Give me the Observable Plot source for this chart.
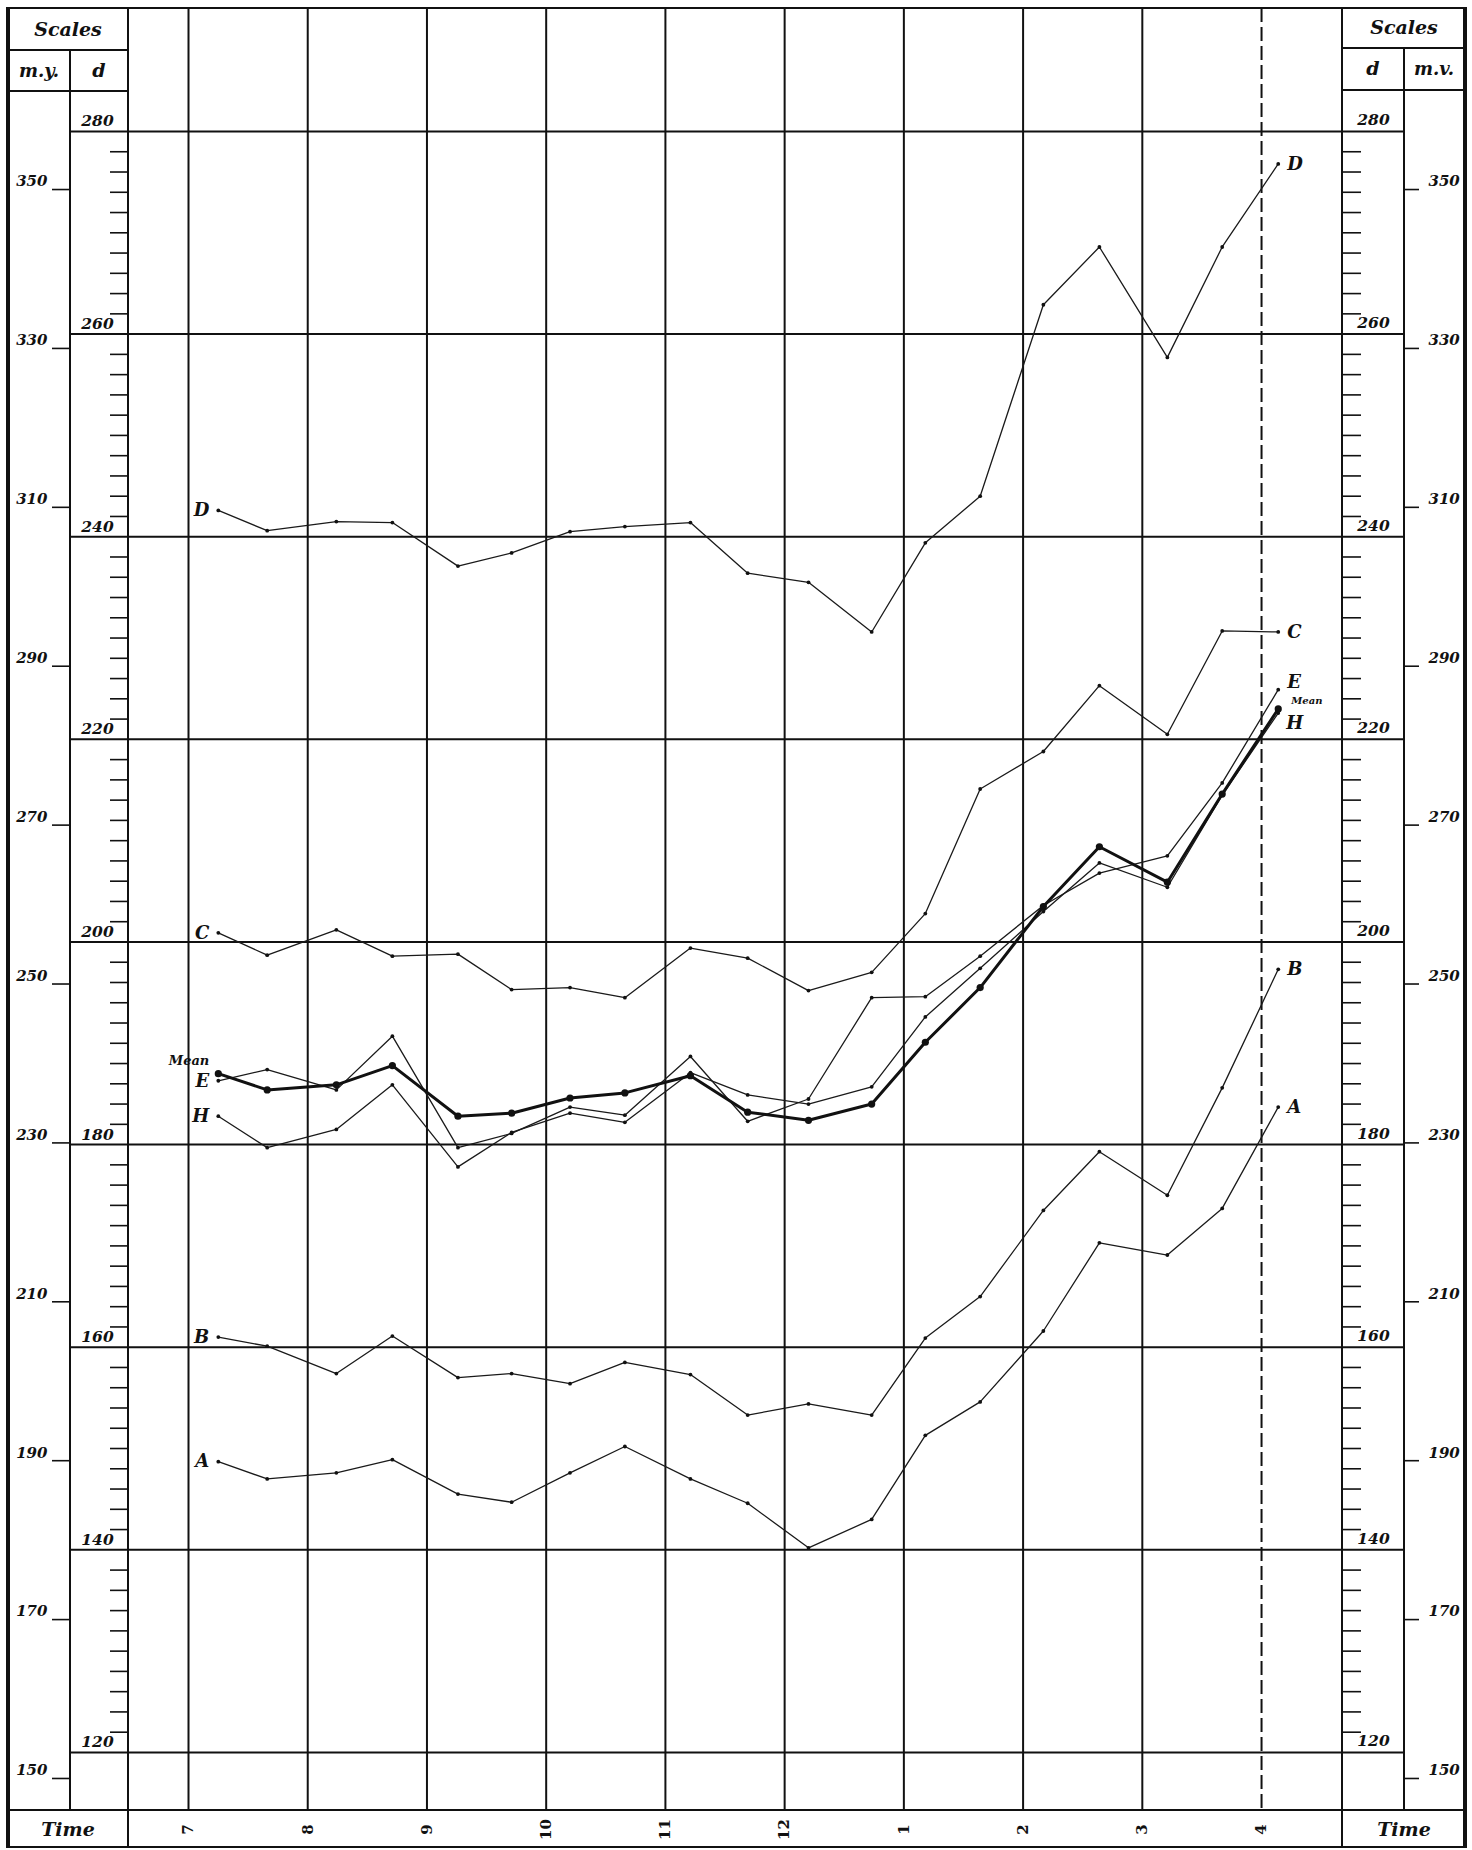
<!DOCTYPE html>
<html>
<head>
<meta charset="utf-8">
<script src="https://cdn.jsdelivr.net/npm/d3@7"></script>
<script src="https://cdn.jsdelivr.net/npm/@observablehq/plot@0.6"></script>
<style>
html,body{margin:0;padding:0;background:#fff;}
#fig{position:relative;width:1472px;height:1850px;overflow:hidden;font-family:"DejaVu Serif",serif;background:#fff;}
#fig svg{position:absolute;left:0;top:0;}
.ln{position:absolute;background:#111;}
.lbl{position:absolute;font-weight:bold;font-style:italic;color:#111;transform:translate(-50%,-50%);white-space:nowrap;font-family:"DejaVu Serif",serif;}
</style>
</head>
<body>
<div id="fig"></div>
<script>
// ---- data (time in decimal hours, values on the "d" scale) ----
const times = [7.25, 7.66, 8.24, 8.71, 9.26, 9.71, 10.20, 10.66, 11.21, 11.69, 12.20, 12.73, 13.18, 13.64, 14.17, 14.64, 15.21, 15.67, 16.14];
const seriesA = [148.7, 147.0, 147.6, 148.9, 145.5, 144.7, 147.6, 150.2, 147.0, 144.6, 140.2, 143.0, 151.3, 154.6, 161.6, 170.3, 169.1, 173.7, 183.7];
const seriesB = [161.0, 160.1, 157.4, 161.1, 157.0, 157.4, 156.4, 158.5, 157.3, 153.3, 154.4, 153.3, 160.9, 165.0, 173.5, 179.3, 175.0, 185.6, 197.3];
const seriesC = [200.9, 198.7, 201.2, 198.6, 198.8, 195.3, 195.5, 194.5, 199.4, 198.4, 195.2, 197.0, 202.8, 215.1, 218.8, 225.3, 220.5, 230.7, 230.6];
const seriesD = [242.6, 240.6, 241.5, 241.4, 237.1, 238.4, 240.5, 241.0, 241.4, 236.4, 235.5, 230.6, 239.4, 244.0, 262.9, 268.6, 257.7, 268.6, 276.8];
const seriesE = [186.3, 187.4, 185.4, 190.7, 179.7, 181.1, 183.7, 182.9, 188.7, 182.3, 184.5, 194.5, 194.6, 198.6, 203.6, 206.8, 208.5, 215.7, 224.9];
const seriesH = [182.8, 179.7, 181.5, 185.9, 177.8, 181.2, 183.1, 182.2, 187.1, 184.9, 184.0, 185.7, 192.6, 197.4, 203.0, 207.8, 205.4, 214.5, 222.6];
const seriesMean = [187.0, 185.4, 185.9, 187.8, 182.8, 183.1, 184.6, 185.1, 186.8, 183.2, 182.4, 184.0, 190.1, 195.5, 203.5, 209.4, 205.9, 214.6, 223.0];
const seriesNames = ["A", "B", "C", "D", "E", "H"];

// ---- tick labels ----
const hourTicks = [7, 8, 9, 10, 11, 12, 13, 14, 15, 16];
const hourLabels = ["7", "8", "9", "10", "11", "12", "1", "2", "3", "4"];
const dMajor = [120, 140, 160, 180, 200, 220, 240, 260, 280];
const dMinor = d3.range(122, 280, 2).filter(v => v % 20 !== 0);
const myTicks = [150, 170, 190, 210, 230, 250, 270, 290, 310, 330, 350];
// m.y. scale expressed on the d scale
const myToD = my => 0.7842 * my - 0.2;
const myLabel = new Map(myTicks.map(m => [myToD(m), String(m)]));

// ---- build tables ----
const valuesBy = {A: seriesA, B: seriesB, C: seriesC, D: seriesD, E: seriesE, H: seriesH};
const thin = seriesNames.flatMap(s => times.map((t, i) => ({series: s, t, d: valuesBy[s][i]})));
const mean = times.map((t, i) => ({series: "Mean", t, d: seriesMean[i]}));
const firsts = seriesNames.map(s => thin.find(r => r.series === s));
const lasts = seriesNames.map(s => thin.filter(r => r.series === s).at(-1));
const lastsPlain = lasts.filter(r => r.series !== "E" && r.series !== "H");
const lastE = lasts.find(r => r.series === "E");
const lastH = lasts.find(r => r.series === "H");
const meanFirst = mean[0], meanLast = mean.at(-1);

const ink = "#111";
const bi = {fontFamily: "DejaVu Serif", fontWeight: "bold", fontStyle: "italic", fill: ink};

const chart = Plot.plot({
  width: 1472, height: 1850,
  marginLeft: 128, marginRight: 130, marginTop: 8, marginBottom: 40,
  x: {domain: [6.4967, 16.679], axis: null, label: null},
  y: {domain: [114.27, 292.14], label: null},
  style: {background: "transparent", color: ink, fontFamily: "DejaVu Serif", overflow: "visible"},
  marks: [
    // grid
    Plot.ruleX(hourTicks.slice(0, -1), {stroke: ink, strokeWidth: 2}),
    Plot.ruleX(hourTicks.slice(-1), {stroke: ink, strokeWidth: 2, strokeDasharray: "14,5"}),
    Plot.ruleY(dMajor, {stroke: ink, strokeWidth: 2}),
    // d scale (left)
    Plot.axisY(dMajor, {anchor: "left", tickSize: 58, tickFormat: () => "", strokeWidth: 2}),
    Plot.axisY(dMinor, {anchor: "left", tickSize: 18, tickFormat: () => "", strokeWidth: 1.6}),
    Plot.text(dMajor, {y: d => d, text: d => String(d), frameAnchor: "left", textAnchor: "middle", lineAnchor: "middle", dx: -31, dy: -10, fontSize: 15.5, ...bi}),
    // d scale (right)
    Plot.axisY(dMajor, {anchor: "right", tickSize: 62, tickFormat: () => "", strokeWidth: 2}),
    Plot.axisY(dMinor, {anchor: "right", tickSize: 18, tickFormat: () => "", strokeWidth: 1.6}),
    Plot.text(dMajor, {y: d => d, text: d => String(d), frameAnchor: "right", textAnchor: "middle", lineAnchor: "middle", dx: 31, dy: -11, fontSize: 15.5, ...bi}),
    // m.y. scale (left) and m.v. scale (right)
    Plot.axisY(myTicks.map(myToD), {anchor: "left", dx: -58, tickSize: 18, tickFormat: () => "", strokeWidth: 1.6}),
    Plot.text(myTicks.map(myToD), {y: d => d, text: d => myLabel.get(d), frameAnchor: "left", lineAnchor: "middle", dx: -81, dy: -8, textAnchor: "end", fontSize: 15, ...bi}),
    Plot.axisY(myTicks.map(myToD), {anchor: "right", dx: 62, tickSize: 14, tickFormat: () => "", strokeWidth: 1.6}),
    Plot.text(myTicks.map(myToD), {y: d => d, text: d => myLabel.get(d), frameAnchor: "right", lineAnchor: "middle", dx: 86, dy: -8, textAnchor: "start", fontSize: 15, ...bi}),
    // time labels
    Plot.text(hourTicks, {x: h => h, text: (h, i) => hourLabels[i], frameAnchor: "bottom", textAnchor: "middle", lineAnchor: "middle", dy: 19, rotate: -90, fontSize: 15, fontFamily: "DejaVu Serif", fontWeight: "bold", fill: ink}),
    // series
    Plot.line(thin, {x: "t", y: "d", z: "series", stroke: "#1a1a1a", strokeWidth: 1.3}),
    Plot.dot(thin, {x: "t", y: "d", r: 1.9, fill: ink, stroke: null}),
    Plot.line(mean, {x: "t", y: "d", stroke: ink, strokeWidth: 3}),
    Plot.dot(mean, {x: "t", y: "d", r: 3.6, fill: ink, stroke: null}),
    // labels
    Plot.text(firsts, {x: "t", y: "d", text: "series", textAnchor: "end", dx: -9, fontSize: 18, ...bi}),
    Plot.text(lastsPlain, {x: "t", y: "d", text: "series", textAnchor: "start", dx: 9, fontSize: 18, ...bi}),
    Plot.text([lastE], {x: "t", y: "d", text: "series", textAnchor: "start", dx: 9, dy: -7, fontSize: 18, ...bi}),
    Plot.text([lastH], {x: "t", y: "d", text: "series", textAnchor: "start", dx: 8, dy: 10, fontSize: 18, ...bi}),
    Plot.text([meanFirst], {x: "t", y: "d", text: "series", textAnchor: "end", dx: -9, dy: -13, fontSize: 13, ...bi}),
    Plot.text([meanLast], {x: "t", y: "d", text: "series", textAnchor: "start", dx: 13, dy: -8, fontSize: 10, ...bi})
  ]
});

const fig = document.getElementById("fig");
fig.appendChild(chart);

// ---- frame / table rules of the printed sheet ----
function rule(x, y, w, h) {
  const e = document.createElement("div");
  e.className = "ln";
  Object.assign(e.style, {left: x + "px", top: y + "px", width: w + "px", height: h + "px"});
  fig.appendChild(e);
}
rule(6, 7, 4, 1841);      // outer left
rule(1463, 7, 4, 1841);   // outer right
rule(6, 7, 1461, 2);      // top
rule(6, 1846, 1461, 2);   // bottom
rule(6, 1809, 1461, 2);   // time row
rule(127, 7, 2, 1841);    // plot left edge
rule(1341, 7, 2, 1841);   // plot right edge
rule(6, 49, 123, 2);      // left header rows
rule(6, 90, 123, 2);
rule(69, 49, 2, 1762);    // m.y. | d divider
rule(1341, 47, 125, 2);   // right header rows
rule(1341, 89, 125, 2);
rule(1403, 47, 2, 1764);  // d | m.v. divider

function label(text, x, y, size) {
  const e = document.createElement("div");
  e.className = "lbl";
  e.textContent = text;
  Object.assign(e.style, {left: x + "px", top: y + "px", fontSize: size + "px"});
  fig.appendChild(e);
}
label("Scales", 68, 29, 19);
label("m.y.", 39, 70, 18);
label("d", 99, 70, 19);
label("Scales", 1404, 27, 19);
label("d", 1373, 68, 19);
label("m.v.", 1434, 68, 18);
label("Time", 68, 1829, 19);
label("Time", 1404, 1829, 19);
</script>
</body>
</html>
